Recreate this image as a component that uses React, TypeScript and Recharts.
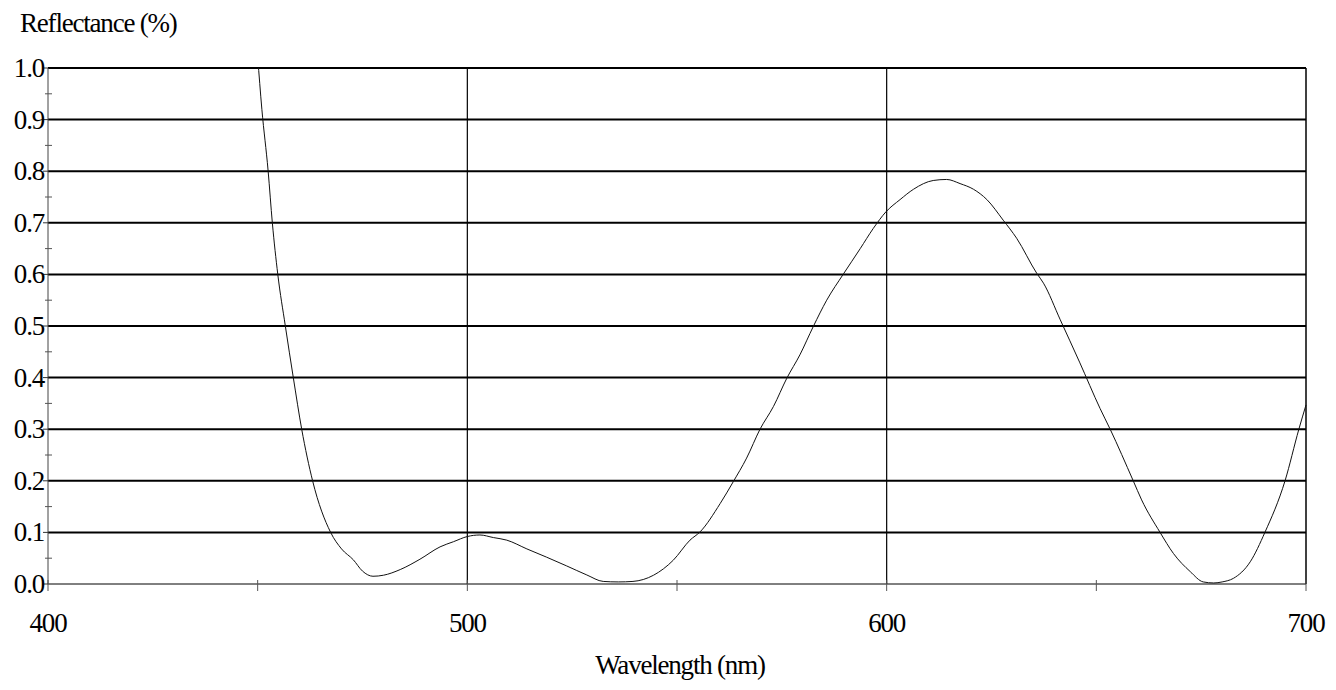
import React from 'react'
import { LineChart, Line, XAxis, YAxis, ReferenceLine } from 'recharts'

// wavelength (nm) and reflectance
const wavelengths = [
  449, 450, 451, 452.5, 453.5, 454.8, 456.6, 458.5, 460.5, 463.1, 467.4, 470, 472.8, 475, 477.5,
  480, 484, 488.7, 493.5, 496.7, 500, 503, 506.2, 509.4, 514.2, 518.9, 523.7, 528.5, 532.4,
  536, 539.5, 544.4, 549.1, 553.1, 555.5, 560.3, 563.4, 566.6, 569.8, 573, 576.2, 579.3,
  582.5, 585.7, 589.7, 593.7, 596.8, 599.8, 603.2, 606.4, 611.1, 614.3, 617.5, 620.7, 623.9,
  627.8, 631, 635.8, 637.4, 641.4, 646, 650.9, 653.3, 658.8, 660.8, 665.2, 668.4, 672.4,
  675.5, 678, 680, 682.7, 686.7, 690.2, 695, 698.3, 700,
]
const reflectance = [
  1.11, 1.02, 0.92, 0.8, 0.7, 0.6, 0.5, 0.4, 0.3, 0.2, 0.1, 0.068, 0.047, 0.025, 0.015,
  0.017, 0.028, 0.048, 0.072, 0.082, 0.092, 0.095, 0.09, 0.085, 0.068, 0.052, 0.035, 0.0175, 0.005,
  0.004, 0.005, 0.017, 0.046, 0.085, 0.101, 0.156, 0.198, 0.244, 0.3, 0.344, 0.399, 0.444,
  0.499, 0.55, 0.601, 0.65, 0.689, 0.721, 0.745, 0.765, 0.782, 0.784, 0.776, 0.765, 0.745,
  0.705, 0.67, 0.602, 0.583, 0.512, 0.43, 0.34, 0.3, 0.2, 0.163, 0.1, 0.059, 0.024,
  0.004, 0.002, 0.004, 0.011, 0.043, 0.1, 0.2, 0.3, 0.347,
]

const xTicks = [400, 450, 500, 550, 600, 650, 700]
const xLabels = [400, 500, 600, 700]
const yTicks = [0, 0.05, 0.1, 0.15, 0.2, 0.25, 0.3, 0.35, 0.4, 0.45, 0.5, 0.55, 0.6, 0.65, 0.7, 0.75, 0.8, 0.85, 0.9, 0.95, 1.0]
const yLabels = [0, 0.1, 0.2, 0.3, 0.4, 0.5, 0.6, 0.7, 0.8, 0.9, 1.0]
const xGrid = [500, 600, 700]

const data = wavelengths.map((nm, i) => ({ nm, r: reflectance[i] }))

const FONT = 'Liberation Serif, DejaVu Serif, serif'

const Txt = (props: any) => (
  <text
    x={props.x}
    y={props.y}
    textAnchor={props.anchor}
    fontFamily={FONT}
    fontSize={27}
    letterSpacing={-1.2}
    fill="#000"
  >
    {props.children}
  </text>
)

const XTick = (props: any) => {
  const { x, y, payload } = props
  const major = xLabels.includes(payload.value)
  return (
    <g>
      <line x1={x} x2={x} y1={y - 4} y2={y + 7} stroke="#555" strokeWidth={1} />
      {major && (
        <Txt x={x} y={y + 48} anchor="middle">
          {payload.value}
        </Txt>
      )}
    </g>
  )
}

const YTick = (props: any) => {
  const { x, y, payload } = props
  const major = yLabels.some((v) => Math.abs(v - payload.value) < 1e-6)
  if (!major) {
    return <line x1={x - 3} x2={x + 4} y1={y} y2={y} stroke="#555" strokeWidth={1} />
  }
  return (
    <g>
      <line x1={x - 5} x2={x} y1={y} y2={y} stroke="#333" strokeWidth={1} />
      <Txt x={x - 4} y={y + 9} anchor="end">
        {payload.value.toFixed(1)}
      </Txt>
    </g>
  )
}

const App: React.FC = () => {
  return (
    <LineChart width={1320} height={680} data={data} margin={{ top: 60, right: 22, left: 0, bottom: 0 }}>
      {yLabels.filter((v) => v > 0).map((v) => (
        <ReferenceLine key={'h' + v} y={v} stroke="#000" strokeWidth={2} ifOverflow="visible" />
      ))}
      {xGrid.map((v) => (
        <ReferenceLine key={'v' + v} x={v} stroke="#000" strokeWidth={v === 700 ? 1.5 : 1.2} ifOverflow="visible" />
      ))}
      <XAxis
        type="number"
        dataKey="nm"
        domain={[400, 700]}
        ticks={xTicks}
        interval={0}
        tickSize={0}
        tickMargin={0}
        tickLine={false}
        height={104}
        axisLine={{ stroke: '#000', strokeWidth: 1 }}
        tick={<XTick />}
        label={{
          content: (p: any) => {
            const vb = p.viewBox
            return (
              <Txt x={vb.x + vb.width / 2 + 3} y={vb.y + 90} anchor="middle">
                Wavelength (nm)
              </Txt>
            )
          },
        }}
      />
      <YAxis
        type="number"
        domain={[0, 1]}
        ticks={yTicks}
        interval={0}
        allowDataOverflow
        width={40}
        tickSize={0}
        tickMargin={0}
        tickLine={false}
        axisLine={{ stroke: '#444', strokeWidth: 1 }}
        tick={<YTick />}
        label={{
          content: (p: any) => {
            const vb = p.viewBox
            return (
              <Txt x={vb.x + 12} y={vb.y - 36} anchor="start">
                Reflectance (%)
              </Txt>
            )
          },
        }}
      />
      <Line
        type="monotone"
        dataKey="r"
        stroke="#111"
        strokeWidth={1}
        dot={false}
        isAnimationActive={false}
      />
    </LineChart>
  )
}

export default App
